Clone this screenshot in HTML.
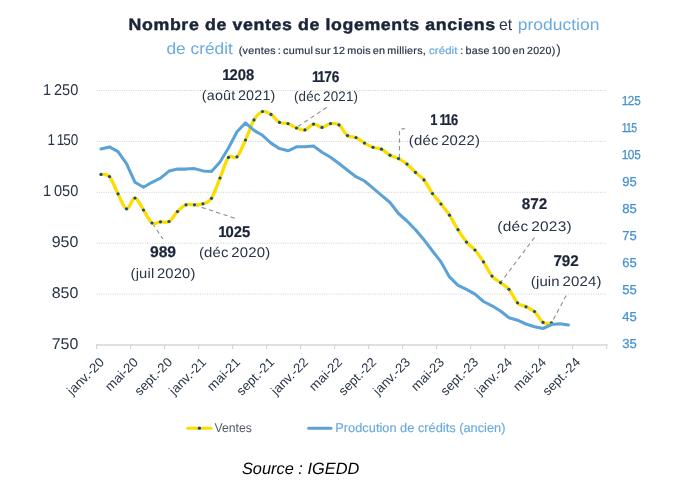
<!DOCTYPE html>
<html lang="fr"><head><meta charset="utf-8"><title>Nombre de ventes de logements anciens et production de crédit</title>
<style>html,body{margin:0;padding:0;background:#fff;}body{width:682px;height:482px;overflow:hidden;}svg{display:block;will-change:transform;}text{font-family:"Liberation Sans",sans-serif;text-rendering:geometricPrecision;}</style>
</head><body>
<svg width="682" height="482" viewBox="0 0 682 482">
<text transform="translate(128.60,30.30) scale(1.0900,1)" font-size="16.30" fill="#1b2438" font-weight="bold" textLength="336.33" lengthAdjust="spacing" stroke="#1b2438" stroke-width="0.45" stroke-linejoin="round">Nombre de ventes de logements anciens</text>
<text transform="translate(499.00,30.30) scale(0.9710,1)" font-size="16.30" fill="#293446" textLength="13.59" lengthAdjust="spacing">et</text>
<text transform="translate(517.70,30.30) scale(1.0746,1)" font-size="16.30" fill="#6aaade" textLength="76.12" lengthAdjust="spacing">production</text>
<text transform="translate(166.50,53.60) scale(1.0540,1)" font-size="16.40" fill="#6aaade" textLength="62.90" lengthAdjust="spacing">de crédit</text>
<text transform="translate(238.80,53.50) scale(1.0404,1)" font-size="10.40" fill="#293446" word-spacing="-1.20" textLength="179.75" lengthAdjust="spacing" stroke="#293446" stroke-width="0.20" stroke-linejoin="round">(ventes : cumul sur 12 mois en milliers,</text>
<text transform="translate(429.00,53.50) scale(1.1000,1)" font-size="10.40" fill="#6aaade" textLength="25.82" lengthAdjust="spacing" stroke="#6aaade" stroke-width="0.20" stroke-linejoin="round">crédit</text>
<text transform="translate(460.20,53.50) scale(1.0268,1)" font-size="10.40" fill="#293446" word-spacing="-1.00" textLength="92.52" lengthAdjust="spacing" stroke="#293446" stroke-width="0.20" stroke-linejoin="round">: base 100 en 2020)</text>
<text transform="translate(556.30,54.20)" font-size="13.50" fill="#293446">)</text>
<line x1="96.5" y1="294.10" x2="607.0" y2="294.10" stroke="#cfcfcf" stroke-width="1" stroke-dasharray="1,1.3"/>
<line x1="96.5" y1="243.20" x2="607.0" y2="243.20" stroke="#cfcfcf" stroke-width="1" stroke-dasharray="1,1.3"/>
<line x1="96.5" y1="192.30" x2="607.0" y2="192.30" stroke="#cfcfcf" stroke-width="1" stroke-dasharray="1,1.3"/>
<line x1="96.5" y1="141.40" x2="607.0" y2="141.40" stroke="#cfcfcf" stroke-width="1" stroke-dasharray="1,1.3"/>
<line x1="96.5" y1="90.50" x2="607.0" y2="90.50" stroke="#cfcfcf" stroke-width="1" stroke-dasharray="1,1.3"/>
<line x1="96.0" y1="345.05" x2="607.6" y2="345.05" stroke="#d6d6d6" stroke-width="1.5"/>
<line x1="96.60" y1="344.4" x2="96.60" y2="349.1" stroke="#d6d6d6" stroke-width="1.15"/>
<line x1="130.60" y1="344.4" x2="130.60" y2="349.1" stroke="#d6d6d6" stroke-width="1.15"/>
<line x1="164.60" y1="344.4" x2="164.60" y2="349.1" stroke="#d6d6d6" stroke-width="1.15"/>
<line x1="198.60" y1="344.4" x2="198.60" y2="349.1" stroke="#d6d6d6" stroke-width="1.15"/>
<line x1="232.60" y1="344.4" x2="232.60" y2="349.1" stroke="#d6d6d6" stroke-width="1.15"/>
<line x1="266.60" y1="344.4" x2="266.60" y2="349.1" stroke="#d6d6d6" stroke-width="1.15"/>
<line x1="300.60" y1="344.4" x2="300.60" y2="349.1" stroke="#d6d6d6" stroke-width="1.15"/>
<line x1="334.60" y1="344.4" x2="334.60" y2="349.1" stroke="#d6d6d6" stroke-width="1.15"/>
<line x1="368.60" y1="344.4" x2="368.60" y2="349.1" stroke="#d6d6d6" stroke-width="1.15"/>
<line x1="402.60" y1="344.4" x2="402.60" y2="349.1" stroke="#d6d6d6" stroke-width="1.15"/>
<line x1="436.60" y1="344.4" x2="436.60" y2="349.1" stroke="#d6d6d6" stroke-width="1.15"/>
<line x1="470.60" y1="344.4" x2="470.60" y2="349.1" stroke="#d6d6d6" stroke-width="1.15"/>
<line x1="504.60" y1="344.4" x2="504.60" y2="349.1" stroke="#d6d6d6" stroke-width="1.15"/>
<line x1="538.60" y1="344.4" x2="538.60" y2="349.1" stroke="#d6d6d6" stroke-width="1.15"/>
<line x1="572.60" y1="344.4" x2="572.60" y2="349.1" stroke="#d6d6d6" stroke-width="1.15"/>
<line x1="606.60" y1="344.4" x2="606.60" y2="349.1" stroke="#d6d6d6" stroke-width="1.15"/>
<text transform="translate(78.30,94.50) scale(0.9350,1)" font-size="15.60" fill="#293446" text-anchor="end" x="-0.00" dx="0.00 -1.37 0.00 0.00 0.00">1 250</text>
<text transform="translate(78.30,145.40) scale(0.8684,1)" font-size="15.60" fill="#293446" text-anchor="end" x="-0.00" dx="0.00 -1.37 -0.87 -1.37 0.00">1 150</text>
<text transform="translate(78.30,196.30) scale(0.9350,1)" font-size="15.60" fill="#293446" text-anchor="end" x="-0.00" dx="0.00 -1.37 0.00 0.00 0.00">1 050</text>
<text transform="translate(78.30,247.20) scale(1.0220,1)" font-size="15.60" fill="#293446" text-anchor="end" textLength="26.03" lengthAdjust="spacing">950</text>
<text transform="translate(78.30,298.10) scale(1.0220,1)" font-size="15.60" fill="#293446" text-anchor="end" textLength="26.03" lengthAdjust="spacing">850</text>
<text transform="translate(78.30,349.00) scale(1.0220,1)" font-size="15.60" fill="#293446" text-anchor="end" textLength="26.03" lengthAdjust="spacing">750</text>
<text transform="translate(622.20,348.05) scale(1.0028,1)" font-size="13.00" fill="#4691cd" textLength="14.46" lengthAdjust="spacing" stroke="#4691cd" stroke-width="0.25" stroke-linejoin="round">35</text>
<text transform="translate(622.20,321.05) scale(1.0028,1)" font-size="13.00" fill="#4691cd" textLength="14.46" lengthAdjust="spacing" stroke="#4691cd" stroke-width="0.25" stroke-linejoin="round">45</text>
<text transform="translate(622.20,294.05) scale(1.0028,1)" font-size="13.00" fill="#4691cd" textLength="14.46" lengthAdjust="spacing" stroke="#4691cd" stroke-width="0.25" stroke-linejoin="round">55</text>
<text transform="translate(622.20,267.05) scale(1.0028,1)" font-size="13.00" fill="#4691cd" textLength="14.46" lengthAdjust="spacing" stroke="#4691cd" stroke-width="0.25" stroke-linejoin="round">65</text>
<text transform="translate(622.20,240.05) scale(1.0028,1)" font-size="13.00" fill="#4691cd" textLength="14.46" lengthAdjust="spacing" stroke="#4691cd" stroke-width="0.25" stroke-linejoin="round">75</text>
<text transform="translate(622.20,213.05) scale(1.0028,1)" font-size="13.00" fill="#4691cd" textLength="14.46" lengthAdjust="spacing" stroke="#4691cd" stroke-width="0.25" stroke-linejoin="round">85</text>
<text transform="translate(622.20,186.05) scale(1.0028,1)" font-size="13.00" fill="#4691cd" textLength="14.46" lengthAdjust="spacing" stroke="#4691cd" stroke-width="0.25" stroke-linejoin="round">95</text>
<text transform="translate(622.20,159.05) scale(0.9064,1)" font-size="13.00" fill="#4691cd" x="-0.45" dx="0.00 -0.72 0.00" stroke="#4691cd" stroke-width="0.25" stroke-linejoin="round">105</text>
<text transform="translate(622.20,132.05) scale(0.8050,1)" font-size="13.00" fill="#4691cd" x="-0.45" dx="0.00 -1.17 -0.72" stroke="#4691cd" stroke-width="0.25" stroke-linejoin="round">115</text>
<text transform="translate(622.20,105.05) scale(0.9064,1)" font-size="13.00" fill="#4691cd" x="-0.45" dx="0.00 -0.72 0.00" stroke="#4691cd" stroke-width="0.25" stroke-linejoin="round">125</text>
<text transform="translate(105.00,363.00) rotate(-45) scale(1.0202,1)" font-size="13.00" fill="#293446" text-anchor="end" textLength="45.28" lengthAdjust="spacing">janv.-20</text>
<text transform="translate(139.00,363.00) rotate(-45) scale(1.0192,1)" font-size="13.00" fill="#293446" text-anchor="end" textLength="39.74" lengthAdjust="spacing">mai-20</text>
<text transform="translate(173.00,363.00) rotate(-45)" font-size="13.00" fill="#293446" text-anchor="end" textLength="46.97" lengthAdjust="spacing">sept.-20</text>
<text transform="translate(207.00,363.00) rotate(-45) scale(1.0202,1)" font-size="13.00" fill="#293446" text-anchor="end" textLength="45.28" lengthAdjust="spacing">janv.-21</text>
<text transform="translate(241.00,363.00) rotate(-45) scale(1.0192,1)" font-size="13.00" fill="#293446" text-anchor="end" textLength="39.74" lengthAdjust="spacing">mai-21</text>
<text transform="translate(275.00,363.00) rotate(-45)" font-size="13.00" fill="#293446" text-anchor="end" textLength="46.97" lengthAdjust="spacing">sept.-21</text>
<text transform="translate(309.00,363.00) rotate(-45) scale(1.0202,1)" font-size="13.00" fill="#293446" text-anchor="end" textLength="45.28" lengthAdjust="spacing">janv.-22</text>
<text transform="translate(343.00,363.00) rotate(-45) scale(1.0192,1)" font-size="13.00" fill="#293446" text-anchor="end" textLength="39.74" lengthAdjust="spacing">mai-22</text>
<text transform="translate(377.00,363.00) rotate(-45)" font-size="13.00" fill="#293446" text-anchor="end" textLength="46.97" lengthAdjust="spacing">sept.-22</text>
<text transform="translate(411.00,363.00) rotate(-45) scale(1.0202,1)" font-size="13.00" fill="#293446" text-anchor="end" textLength="45.28" lengthAdjust="spacing">janv.-23</text>
<text transform="translate(445.00,363.00) rotate(-45) scale(1.0192,1)" font-size="13.00" fill="#293446" text-anchor="end" textLength="39.74" lengthAdjust="spacing">mai-23</text>
<text transform="translate(479.00,363.00) rotate(-45)" font-size="13.00" fill="#293446" text-anchor="end" textLength="46.97" lengthAdjust="spacing">sept.-23</text>
<text transform="translate(513.00,363.00) rotate(-45) scale(1.0202,1)" font-size="13.00" fill="#293446" text-anchor="end" textLength="45.28" lengthAdjust="spacing">janv.-24</text>
<text transform="translate(547.00,363.00) rotate(-45) scale(1.0192,1)" font-size="13.00" fill="#293446" text-anchor="end" textLength="39.74" lengthAdjust="spacing">mai-24</text>
<text transform="translate(581.00,363.00) rotate(-45)" font-size="13.00" fill="#293446" text-anchor="end" textLength="46.97" lengthAdjust="spacing">sept.-24</text>
<polyline points="152.5,223.5 163.0,239.0" fill="none" stroke="#909090" stroke-width="1.1" stroke-dasharray="4.3,3.3"/>
<polyline points="194.5,205.0 235.0,218.3" fill="none" stroke="#909090" stroke-width="1.1" stroke-dasharray="4.3,3.3"/>
<polyline points="326.8,107.3 296.0,127.8" fill="none" stroke="#909090" stroke-width="1.1" stroke-dasharray="4.3,3.3"/>
<polyline points="399.5,158.0 399.5,129.5 405.0,128.5" fill="none" stroke="#909090" stroke-width="1.1" stroke-dasharray="4.3,3.3"/>
<polyline points="534.5,237.5 500.4,282.7" fill="none" stroke="#909090" stroke-width="1.1" stroke-dasharray="4.3,3.3"/>
<polyline points="566.2,295.5 551.5,323.0" fill="none" stroke="#909090" stroke-width="1.1" stroke-dasharray="4.3,3.3"/>
<path d="M101.00,174.40 C102.42,174.77 106.67,173.37 109.50,176.60 C112.33,179.83 115.17,188.43 118.00,193.80 C120.83,199.17 123.67,208.10 126.50,208.80 C129.33,209.50 132.17,197.80 135.00,198.00 C137.83,198.20 140.67,205.83 143.50,210.00 C146.33,214.17 149.17,221.03 152.00,223.00 C154.83,224.97 157.67,222.05 160.50,221.80 C163.33,221.55 166.17,223.22 169.00,221.50 C171.83,219.78 174.67,214.28 177.50,211.50 C180.33,208.72 183.17,205.92 186.00,204.80 C188.83,203.68 191.67,204.97 194.50,204.80 C197.33,204.63 200.17,204.88 203.00,203.80 C205.83,202.72 208.67,202.60 211.50,198.30 C214.33,194.00 217.17,184.82 220.00,178.00 C222.83,171.18 225.67,160.93 228.50,157.40 C231.33,153.87 234.17,159.70 237.00,156.80 C239.83,153.90 242.67,146.15 245.50,140.00 C248.33,133.85 251.17,124.65 254.00,119.90 C256.83,115.15 259.67,112.42 262.50,111.50 C265.33,110.58 268.17,112.58 271.00,114.40 C273.83,116.22 276.67,120.87 279.50,122.40 C282.33,123.93 285.17,122.67 288.00,123.60 C290.83,124.53 293.67,126.95 296.50,128.00 C299.33,129.05 302.17,130.55 305.00,129.90 C307.83,129.25 310.67,124.52 313.50,124.10 C316.33,123.68 319.17,127.48 322.00,127.40 C324.83,127.32 327.67,124.02 330.50,123.60 C333.33,123.18 336.17,122.90 339.00,124.90 C341.83,126.90 344.67,133.48 347.50,135.60 C350.33,137.72 353.17,136.35 356.00,137.60 C358.83,138.85 361.67,141.48 364.50,143.10 C367.33,144.72 370.17,146.28 373.00,147.30 C375.83,148.32 378.67,147.88 381.50,149.20 C384.33,150.52 387.17,153.63 390.00,155.20 C392.83,156.77 395.67,157.12 398.50,158.60 C401.33,160.08 404.17,161.80 407.00,164.10 C409.83,166.40 412.67,169.77 415.50,172.40 C418.33,175.03 421.17,176.37 424.00,179.90 C426.83,183.43 429.67,189.58 432.50,193.60 C435.33,197.62 438.17,200.40 441.00,204.00 C443.83,207.60 446.67,210.92 449.50,215.20 C452.33,219.48 455.17,225.22 458.00,229.70 C460.83,234.18 463.67,238.72 466.50,242.10 C469.33,245.48 472.17,246.70 475.00,250.00 C477.83,253.30 480.67,257.55 483.50,261.90 C486.33,266.25 489.17,272.65 492.00,276.10 C494.83,279.55 497.67,280.40 500.50,282.60 C503.33,284.80 506.17,285.93 509.00,289.30 C511.83,292.67 514.67,299.88 517.50,302.80 C520.33,305.72 523.17,305.35 526.00,306.80 C528.83,308.25 531.67,308.90 534.50,311.50 C537.33,314.10 540.17,320.50 543.00,322.40 C545.83,324.30 550.08,322.82 551.50,322.90" fill="none" stroke="#ffdc00" stroke-width="3.3" stroke-linejoin="round" stroke-linecap="round"/>
<circle cx="101.00" cy="174.40" r="1.6" fill="#114e86"/>
<circle cx="109.50" cy="176.60" r="1.6" fill="#114e86"/>
<circle cx="118.00" cy="193.80" r="1.6" fill="#114e86"/>
<circle cx="126.50" cy="208.80" r="1.6" fill="#114e86"/>
<circle cx="135.00" cy="198.00" r="1.6" fill="#114e86"/>
<circle cx="143.50" cy="210.00" r="1.6" fill="#114e86"/>
<circle cx="152.00" cy="223.00" r="1.6" fill="#114e86"/>
<circle cx="160.50" cy="221.80" r="1.6" fill="#114e86"/>
<circle cx="169.00" cy="221.50" r="1.6" fill="#114e86"/>
<circle cx="177.50" cy="211.50" r="1.6" fill="#114e86"/>
<circle cx="186.00" cy="204.80" r="1.6" fill="#114e86"/>
<circle cx="194.50" cy="204.80" r="1.6" fill="#114e86"/>
<circle cx="203.00" cy="203.80" r="1.6" fill="#114e86"/>
<circle cx="211.50" cy="198.30" r="1.6" fill="#114e86"/>
<circle cx="220.00" cy="178.00" r="1.6" fill="#114e86"/>
<circle cx="228.50" cy="157.40" r="1.6" fill="#114e86"/>
<circle cx="237.00" cy="156.80" r="1.6" fill="#114e86"/>
<circle cx="245.50" cy="140.00" r="1.6" fill="#114e86"/>
<circle cx="254.00" cy="119.90" r="1.6" fill="#114e86"/>
<circle cx="262.50" cy="111.50" r="1.6" fill="#114e86"/>
<circle cx="271.00" cy="114.40" r="1.6" fill="#114e86"/>
<circle cx="279.50" cy="122.40" r="1.6" fill="#114e86"/>
<circle cx="288.00" cy="123.60" r="1.6" fill="#114e86"/>
<circle cx="296.50" cy="128.00" r="1.6" fill="#114e86"/>
<circle cx="305.00" cy="129.90" r="1.6" fill="#114e86"/>
<circle cx="313.50" cy="124.10" r="1.6" fill="#114e86"/>
<circle cx="322.00" cy="127.40" r="1.6" fill="#114e86"/>
<circle cx="330.50" cy="123.60" r="1.6" fill="#114e86"/>
<circle cx="339.00" cy="124.90" r="1.6" fill="#114e86"/>
<circle cx="347.50" cy="135.60" r="1.6" fill="#114e86"/>
<circle cx="356.00" cy="137.60" r="1.6" fill="#114e86"/>
<circle cx="364.50" cy="143.10" r="1.6" fill="#114e86"/>
<circle cx="373.00" cy="147.30" r="1.6" fill="#114e86"/>
<circle cx="381.50" cy="149.20" r="1.6" fill="#114e86"/>
<circle cx="390.00" cy="155.20" r="1.6" fill="#114e86"/>
<circle cx="398.50" cy="158.60" r="1.6" fill="#114e86"/>
<circle cx="407.00" cy="164.10" r="1.6" fill="#114e86"/>
<circle cx="415.50" cy="172.40" r="1.6" fill="#114e86"/>
<circle cx="424.00" cy="179.90" r="1.6" fill="#114e86"/>
<circle cx="432.50" cy="193.60" r="1.6" fill="#114e86"/>
<circle cx="441.00" cy="204.00" r="1.6" fill="#114e86"/>
<circle cx="449.50" cy="215.20" r="1.6" fill="#114e86"/>
<circle cx="458.00" cy="229.70" r="1.6" fill="#114e86"/>
<circle cx="466.50" cy="242.10" r="1.6" fill="#114e86"/>
<circle cx="475.00" cy="250.00" r="1.6" fill="#114e86"/>
<circle cx="483.50" cy="261.90" r="1.6" fill="#114e86"/>
<circle cx="492.00" cy="276.10" r="1.6" fill="#114e86"/>
<circle cx="500.50" cy="282.60" r="1.6" fill="#114e86"/>
<circle cx="509.00" cy="289.30" r="1.6" fill="#114e86"/>
<circle cx="517.50" cy="302.80" r="1.6" fill="#114e86"/>
<circle cx="526.00" cy="306.80" r="1.6" fill="#114e86"/>
<circle cx="534.50" cy="311.50" r="1.6" fill="#114e86"/>
<circle cx="543.00" cy="322.40" r="1.6" fill="#114e86"/>
<circle cx="551.50" cy="322.90" r="1.6" fill="#114e86"/>
<polyline points="101.00,148.90 109.50,146.90 118.00,151.70 126.50,163.60 135.00,182.30 143.50,187.30 152.00,182.30 160.50,178.10 169.00,171.10 177.50,169.10 186.00,169.10 194.50,168.60 203.00,170.90 211.50,171.40 220.00,162.00 228.50,148.00 237.00,131.80 245.50,122.90 254.00,130.40 262.50,135.30 271.00,143.10 279.50,148.60 288.00,150.80 296.50,146.80 305.00,146.80 313.50,146.10 322.00,152.30 330.50,157.30 339.00,163.50 347.50,170.20 356.00,176.70 364.50,181.00 373.00,188.10 381.50,195.30 390.00,202.50 398.50,213.50 407.00,221.00 415.50,229.70 424.00,239.80 432.50,251.00 441.00,261.90 449.50,276.90 458.00,285.30 466.50,289.30 475.00,294.10 483.50,301.50 492.00,305.80 500.50,311.00 509.00,317.70 517.50,320.20 526.00,324.00 534.50,326.70 543.00,328.50 551.50,324.60 560.00,323.80 568.50,324.90" fill="none" stroke="#5ba3d6" stroke-width="3.05" stroke-linejoin="round" stroke-linecap="round"/>
<text transform="translate(238.60,79.90) scale(0.9571,1)" font-size="15.50" fill="#1b2438" font-weight="bold" text-anchor="middle" x="-0.33" dx="0.00 -1.02 0.00 0.00" stroke="#1b2438" stroke-width="0.20" stroke-linejoin="round">1208</text>
<text transform="translate(238.60,100.40) scale(1.0413,1)" font-size="13.80" fill="#293446" text-anchor="middle" word-spacing="-1.50" textLength="70.58" lengthAdjust="spacing">(août 2021)</text>
<text transform="translate(326.00,81.70) scale(0.8818,1)" font-size="15.50" fill="#1b2438" font-weight="bold" text-anchor="middle" x="-0.33" dx="0.00 -1.67 -1.02 0.00" stroke="#1b2438" stroke-width="0.20" stroke-linejoin="round">1176</text>
<text transform="translate(326.00,101.20) scale(0.9716,1)" font-size="13.80" fill="#293446" text-anchor="middle" word-spacing="-1.50" textLength="65.97" lengthAdjust="spacing">(déc 2021)</text>
<text transform="translate(234.60,237.40) scale(0.9571,1)" font-size="15.50" fill="#1b2438" font-weight="bold" text-anchor="middle" x="-0.33" dx="0.00 -1.02 0.00 0.00" stroke="#1b2438" stroke-width="0.20" stroke-linejoin="round">1025</text>
<text transform="translate(234.60,257.30) scale(1.0807,1)" font-size="13.80" fill="#293446" text-anchor="middle" word-spacing="-1.50" textLength="65.97" lengthAdjust="spacing">(déc 2020)</text>
<text transform="translate(163.00,257.30) scale(1.0131,1)" font-size="15.50" fill="#1b2438" font-weight="bold" text-anchor="middle" textLength="25.86" lengthAdjust="spacing" stroke="#1b2438" stroke-width="0.20" stroke-linejoin="round">989</text>
<text transform="translate(163.00,278.00) scale(1.0693,1)" font-size="13.80" fill="#293446" text-anchor="middle" word-spacing="-1.50" textLength="60.60" lengthAdjust="spacing">(juil 2020)</text>
<text transform="translate(444.40,124.90) scale(0.8326,1)" font-size="15.50" fill="#1b2438" font-weight="bold" text-anchor="middle" x="-0.33" dx="0.00 -1.02 -0.65 -1.67 -1.02" stroke="#1b2438" stroke-width="0.20" stroke-linejoin="round">1 116</text>
<text transform="translate(444.40,145.40) scale(1.0777,1)" font-size="13.80" fill="#293446" text-anchor="middle" word-spacing="-1.50" textLength="65.97" lengthAdjust="spacing">(déc 2022)</text>
<text transform="translate(534.50,209.40) scale(0.9860,1)" font-size="15.50" fill="#1b2438" font-weight="bold" text-anchor="middle" textLength="25.86" lengthAdjust="spacing" stroke="#1b2438" stroke-width="0.20" stroke-linejoin="round">872</text>
<text transform="translate(534.50,230.60) scale(1.1200,1)" font-size="13.80" fill="#293446" text-anchor="middle" word-spacing="-1.50" textLength="66.34" lengthAdjust="spacing">(déc 2023)</text>
<text transform="translate(566.10,265.50) scale(0.9822,1)" font-size="15.50" fill="#1b2438" font-weight="bold" text-anchor="middle" textLength="25.86" lengthAdjust="spacing" stroke="#1b2438" stroke-width="0.20" stroke-linejoin="round">792</text>
<text transform="translate(566.10,286.00) scale(1.0842,1)" font-size="13.80" fill="#293446" text-anchor="middle" word-spacing="-1.50" textLength="65.21" lengthAdjust="spacing">(juin 2024)</text>
<line x1="187.7" y1="428.2" x2="211" y2="428.2" stroke="#ffdc00" stroke-width="3" stroke-linecap="round"/>
<circle cx="199.4" cy="428.2" r="1.6" fill="#114e86"/>
<text transform="translate(214.40,432.40) scale(0.9706,1)" font-size="12.60" fill="#555b66" textLength="38.53" lengthAdjust="spacing">Ventes</text>
<line x1="308.6" y1="428.2" x2="331" y2="428.2" stroke="#5ba3d6" stroke-width="3" stroke-linecap="round"/>
<text transform="translate(335.30,432.20) scale(1.0168,1)" font-size="12.60" fill="#6aaade" textLength="167.39" lengthAdjust="spacing" stroke="#6aaade" stroke-width="0.15" stroke-linejoin="round">Prodcution de crédits (ancien)</text>
<text transform="translate(241.90,473.60) scale(0.9985,1)" font-size="16.40" fill="#000000" font-style="italic" textLength="117.57" lengthAdjust="spacing">Source : IGEDD</text>
</svg>
</body></html>
